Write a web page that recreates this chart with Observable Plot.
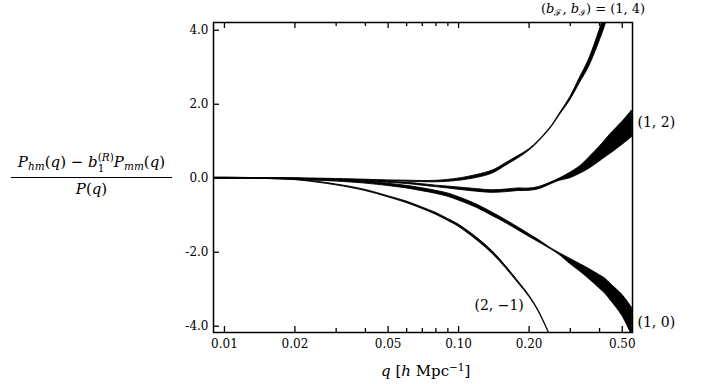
<!DOCTYPE html>
<html>
<head>
<meta charset="utf-8">
<script src="https://cdn.jsdelivr.net/npm/d3@7"></script>
<script src="https://cdn.jsdelivr.net/npm/@observablehq/plot@0.6"></script>
<style>
  body { margin: 0; background: #fff; }
  #wrap { position: relative; width: 705px; height: 384px; font-family: "DejaVu Serif", serif; color: #000; }
  #chart { position: absolute; left: 0; top: 0; }
  .ann { position: absolute; white-space: nowrap; font-size: 14px; line-height: 1; font-family: "DejaVu Serif", serif; }
  .ann sub { font-size: 70%; vertical-align: -0.3em; }
  .ann sup { font-size: 70%; vertical-align: 0.5em; }
  #ylab { left: 11px; top: 152px; width: 161px; text-align: center; font-size: 15px; }
  #ylab .num { display: block; padding-bottom: 3px; border-bottom: 1px solid #000; }
  #ylab .den { display: block; padding-top: 4px; }
  .stack { display: inline-block; vertical-align: -0.45em; font-size: 70%; line-height: 1.05; text-align: left; }
  .stack span { display: block; }
</style>
</head>
<body>
<div id="wrap">
  <div id="chart"></div>
  <div class="ann" id="ylab">
    <span class="num"><i>P</i><sub><i>hm</i></sub>(<i>q</i>) − <i>b</i><span class="stack"><span>(<i>R</i>)</span><span>1</span></span><i>P</i><sub><i>mm</i></sub>(<i>q</i>)</span>
    <span class="den"><i>P</i>(<i>q</i>)</span>
  </div>
  <div class="ann" id="xlab" style="left:381px;top:362px;font-size:15px;"><i>q</i> [<i>h</i> Mpc<sup>−1</sup>]</div>
  <div class="ann" id="toplab" style="left:541px;top:2px;font-size:13px;">(<i>b</i><sub>ℱ</sub>, <i>b</i><sub>ℐ</sub>) = (1, 4)</div>
</div>
<script>
// ---- data ----
const q = [0.009, 0.01, 0.015, 0.02, 0.03, 0.04, 0.05, 0.06, 0.07, 0.08, 0.09, 0.10, 0.12, 0.14, 0.16, 0.18, 0.20, 0.22, 0.25, 0.27, 0.30, 0.33, 0.36, 0.40, 0.42, 0.45, 0.50, 0.55];

// (b_F, b_I) = (1, 4)
const lo14 = [-0.01, -0.01, -0.015, -0.02, -0.04, -0.06, -0.082, -0.095, -0.105, -0.11, -0.095, -0.07, 0.01, 0.13, 0.345, 0.54, 0.74, 0.985, 1.385, 1.7, 2.11, 2.58, 3.0, 3.7, 4.07, 4.7, 5.75, 6.7];
const hi14 = [0.01, 0.01, 0.005, 0, -0.02, -0.04, -0.058, -0.065, -0.075, -0.07, -0.045, -0.01, 0.09, 0.21, 0.415, 0.6, 0.78, 1.015, 1.415, 1.74, 2.19, 2.72, 3.2, 4.0, 4.43, 5.1, 6.25, 7.3];

// (1, 2)
const lo12 = [-0.01, -0.01, -0.02, -0.03, -0.06, -0.09, -0.125, -0.155, -0.2, -0.24, -0.275, -0.31, -0.365, -0.395, -0.375, -0.345, -0.34, -0.3, -0.155, -0.07, 0.0, 0.12, 0.25, 0.45, 0.55, 0.68, 0.9, 1.11];
const hi12 = [0.01, 0.01, 0.0, -0.01, -0.04, -0.07, -0.095, -0.125, -0.16, -0.2, -0.225, -0.25, -0.295, -0.325, -0.305, -0.275, -0.28, -0.24, -0.105, -0.01, 0.15, 0.32, 0.55, 0.85, 1.0, 1.22, 1.52, 1.83];

// (1, 0)
const lo10 = [-0.01, -0.01, -0.02, -0.045, -0.09, -0.145, -0.21, -0.275, -0.35, -0.42, -0.5, -0.6, -0.805, -1.025, -1.22, -1.41, -1.58, -1.73, -1.935, -2.075, -2.32, -2.52, -2.72, -2.98, -3.1, -3.33, -3.72, -4.25];
const hi10 = [0.01, 0.01, 0.0, -0.015, -0.05, -0.095, -0.15, -0.205, -0.27, -0.34, -0.41, -0.51, -0.715, -0.935, -1.14, -1.33, -1.51, -1.67, -1.905, -2.025, -2.18, -2.32, -2.45, -2.62, -2.7, -2.88, -3.15, -3.5];

// (2, -1)  (first 19 q values)
const lo21 = [-0.01, -0.01, -0.02, -0.05, -0.192, -0.345, -0.515, -0.67, -0.83, -0.985, -1.15, -1.31, -1.68, -2.05, -2.45, -2.84, -3.2, -3.615, -4.36];
const hi21 = [0.01, 0.01, 0.0, -0.03, -0.168, -0.315, -0.485, -0.63, -0.79, -0.935, -1.1, -1.25, -1.61, -1.98, -2.39, -2.79, -3.16, -3.585, -4.34];

const xMajor = [0.01, 0.02, 0.05, 0.1, 0.2, 0.5];
const xMinor = [0.03, 0.04, 0.06, 0.07, 0.08, 0.09, 0.3, 0.4];
const yTicks = [-4, -2, 0, 2, 4];

const labelText = ["(1, 2)", "(1, 0)"];
const labelV = [1.5, -3.9];
const label21 = ["(2, −1)"];
const label21Q = [0.149];
const label21V = [-3.45];

// ---- build table ----
const series = [["14", lo14, hi14], ["12", lo12, hi12], ["10", lo10, hi10], ["21", lo21, hi21]];
const rows = [];
for (const [s, lo, hi] of series) lo.forEach((v, i) => rows.push({s, q: q[i], lo: v, hi: hi[i]}));

const W = 705, H = 384, mL = 213, mR = 73, mT = 22, mB = 52;
const innerW = W - mL - mR, innerH = H - mT - mB;
const xDom = [0.00898, 0.553];
const FONT = "'DejaVu Serif', serif";

const plot = Plot.plot({
  width: W, height: H,
  marginLeft: mL, marginRight: mR, marginTop: mT, marginBottom: mB,
  style: {fontFamily: FONT, fontSize: "12px", color: "#000", background: "#fff"},
  x: {type: "log", domain: xDom},
  y: {domain: [-4.17, 4.21]},
  marks: [
    Plot.areaY(rows, {x: "q", y1: "lo", y2: "hi", z: "s", fill: "black", stroke: "black", strokeWidth: 0.9, curve: "catmull-rom", clip: true}),
    Plot.frame({stroke: "black", strokeWidth: 1.5}),
    Plot.tickX(xMajor, {x: d => d, insetTop: innerH - 6, stroke: "black", strokeWidth: 1.3}),
    Plot.tickX(xMajor, {x: d => d, insetBottom: innerH - 6, stroke: "black", strokeWidth: 1.3}),
    Plot.tickX(xMinor, {x: d => d, insetTop: innerH - 4, stroke: "black", strokeWidth: 1.3}),
    Plot.tickX(xMinor, {x: d => d, insetBottom: innerH - 4, stroke: "black", strokeWidth: 1.3}),
    Plot.tickY(yTicks, {y: d => d, insetRight: innerW - 6, stroke: "black", strokeWidth: 1.3}),
    Plot.axisX({ticks: xMajor, tickSize: 0, tickPadding: 7, tickFormat: d => d.toFixed(2), label: null, fontSize: 12, fontFamily: FONT}),
    Plot.axisY({ticks: yTicks, tickSize: 0, tickPadding: 5, tickFormat: d => d.toFixed(1), label: null, fontSize: 12, fontFamily: FONT}),
    Plot.text(labelText, {x: xDom[1], y: (d, i) => labelV[i], text: d => d, textAnchor: "start", dx: 5, fontSize: 14, fontFamily: FONT}),
    Plot.text(label21, {x: (d, i) => label21Q[i], y: (d, i) => label21V[i], text: d => d, textAnchor: "middle", fontSize: 14, fontFamily: FONT})
  ]
});
document.getElementById("chart").appendChild(plot);
</script>
</body>
</html>
